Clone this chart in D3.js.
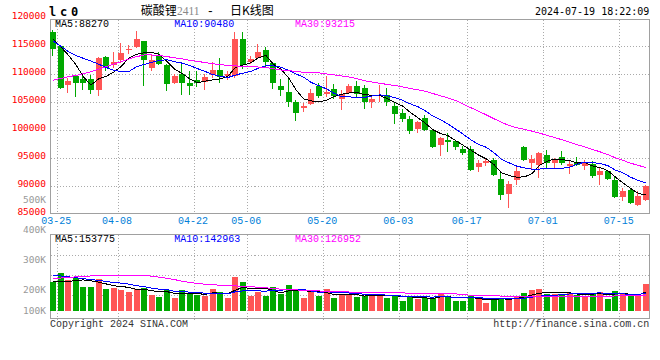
<!DOCTYPE html>
<html><head><meta charset="utf-8">
<script src="https://cdn.jsdelivr.net/npm/d3@7"></script>
<style>html,body{margin:0;padding:0;background:#fff}svg{display:block}</style>
</head><body>
<svg id="chart" width="660" height="360"></svg>
<script>
// ---------------- data ----------------
const dates=["03-25","03-26","03-27","03-28","03-29","04-01","04-02","04-03","04-08","04-09","04-10","04-11","04-12","04-15","04-16","04-17","04-18","04-19","04-22","04-23","04-24","04-25","04-26","04-29","04-30","05-06","05-07","05-08","05-09","05-10","05-13","05-14","05-15","05-16","05-17","05-20","05-21","05-22","05-23","05-24","05-27","05-28","05-29","05-30","05-31","06-03","06-04","06-05","06-06","06-07","06-11","06-12","06-13","06-14","06-17","06-18","06-19","06-20","06-21","06-24","06-25","06-26","06-27","06-28","07-01","07-02","07-03","07-04","07-05","07-08","07-09","07-10","07-11","07-12","07-15","07-16","07-17","07-18","07-19"];
const opens=[117566,115000,108019,109630,109033,109033,107064,113030,111600,112494,114224,114881,115895,111002,113210,111599,108436,110047,108376,108853,108616,109809,110644,109690,109630,116193,112136,112912,114224,112017,107840,106826,105036,103962,104558,107840,106348,107243,105453,106527,107840,107422,105036,105990,106229,104260,102947,102052,100262,102172,100083,97398,98294,97995,96683,96683,93341,94057,94713,91312,88627,91014,96921,94057,93818,95609,94117,95250,93520,94355,93520,93997,92028,92625,91014,87971,89224,86538,87433];
const highs=[117800,115100,109331,109750,109810,109900,113090,113210,113985,115597,115180,117685,115895,113628,113985,111718,109930,112017,110525,110525,110048,112196,112912,110525,117566,117566,113210,115418,114821,112136,109033,109033,105274,104857,107243,108436,109630,108138,107064,108138,108735,108019,106050,107959,107422,104857,103663,102470,101575,102649,100262,98711,99487,98294,97100,97100,94713,94892,95012,92744,90834,93520,97100,95609,96086,96504,95012,96325,94415,95131,94713,94415,93222,92923,91730,89641,89641,89045,90237];
const lows=[113300,107250,106527,105870,107064,106348,106050,110525,111121,112016,113508,114702,107840,110525,111599,106945,108257,106229,106229,107661,107064,109331,108437,108854,109331,110823,111718,112613,111241,107243,106050,104081,101694,103245,104439,105751,105870,105453,103484,106348,105632,103678,103962,105036,104260,101098,101456,99308,99427,99904,96802,95310,96086,96504,95609,92625,92505,93520,91730,87553,86061,90118,94415,92983,91431,93102,93102,93699,92207,93520,92804,91431,90237,91014,87851,87255,86777,86479,87255];
const closes=[114403,107422,108735,108436,108436,107064,112911,111121,112136,113687,114523,116193,112494,112494,111718,108138,109570,108436,107840,108317,109451,110644,109451,110048,116193,111599,112613,113986,112196,108317,107064,105036,102947,104260,106647,106050,106826,106050,106348,107840,106348,104976,105453,106169,105036,102768,101992,99785,101396,100083,96981,98593,97816,96921,95907,92804,94117,94534,91909,88448,90357,92744,94594,94773,95907,94057,94713,94057,93997,93699,94355,91730,92625,91312,87971,89046,86956,88150,89940];
const volumes=[238304,311420,251844,265384,197684,197684,259968,178728,189560,170604,157064,178728,189560,129984,116444,170604,108320,170604,135400,129984,124568,178728,157064,108320,278924,238304,124568,151648,124568,197684,135400,211224,178728,108320,151648,124568,178728,102904,129984,135400,116444,121860,129984,135400,108320,129984,81240,121860,97488,102904,102904,148940,121860,81240,81240,121860,102904,67700,97488,102904,108320,121860,143524,170604,178728,135400,140816,135400,146232,129984,124568,148940,157064,100196,162480,138108,124568,124568,219348];
// moving-average values before a full window exists
const ma5Lead=[116200,114900,113400,111700];
const ma10Lead=[115900,115000,114000,113300,112800,112300,111750,111150,110650];
const ma30Lead=[108900,109200,109500,109750,110050,110400,110850,111300,111750,112200,112700,113100,113400,113400,113300,113100,112900,112700,112450,112250,112050,111850,111650,111550,111450,111350,111300,111250,111150];
const volMa5Lead=[238000,240000,242000,245000];
const volMa10Lead=[292000,285000,278000,270000,262000,255000,248000,240000,232000];
const volMa30Lead=[262000,268000,273000,277000,281000,285000,288000,291000,292000,292000,292000,292000,290000,283000,275000,266000,255000,242000,231000,224000,218000,213000,210000,207000,204000,200000,197000,193000,189000];
const priceTicks=[120000,115000,110000,105000,100000,95000,90000,85000];
const volTicks=[500000,400000,300000,200000,100000];
const volTickLabels=["500K","400K","300K","200K","100K"];
const xLabelDates=["03-25","04-08","04-22","05-06","05-20","06-03","06-17","07-01","07-15"];
const maNames=["MA5","MA10","MA30"];
const maPeriods=[5,10,30];
const priceMaValues=[88270,90480,93215];
const volMaValues=[153775,142963,126952];
const symbol="lc0", titleName="碳酸锂", titleCode="2411", titleKind="日K线图";
const stamp="2024-07-19 18:22:09";
const copyright="Copyright 2024 SINA.COM", site="http://finance.sina.com.cn";

// ---------------- drawing ----------------
const svg=d3.select("#chart");
const MONO="'Liberation Mono','DejaVu Sans Mono',monospace";
const DJ="'DejaVu Sans Mono','Liberation Mono',monospace";
const CJK="'Noto Sans CJK SC','Noto Sans CJK JP',sans-serif";
const RED="#ff5555", GREEN="#00a800", GRID="#aaaaaa", BORDER="#a0a0a0";
const maColors=["#000000","#0000ff","#ff00ff"];

svg.append("rect").attr("width",660).attr("height",360).attr("fill","#fff");

const L=50.5, R=649.5;
const x=d3.scaleBand().domain(dates).range([49.2,649.6]).paddingInner(0).paddingOuter(0);
const step=x.step();
const cx=d=>x(d)+step/2;
const y=d3.scaleLinear().domain([85000,120000]).range([214,18]);
const yv=d3.scaleLinear().domain([0,625000]).range([311,234.06]);
const yvLabel=d3.scaleLinear().domain([200000,500000]).range([290,200]);

function rolling(vals,n,lead){return vals.map((v,i)=>i>=n-1?d3.mean(vals.slice(i-n+1,i+1)):lead[i]);}
const priceMA=[rolling(closes,5,ma5Lead),rolling(closes,10,ma10Lead),rolling(closes,30,ma30Lead)];
const volMA=[rolling(volumes,5,volMa5Lead),rolling(volumes,10,volMa10Lead),rolling(volumes,30,volMa30Lead)];

const grid=svg.append("g").attr("shape-rendering","crispEdges").attr("stroke",GRID).attr("stroke-dasharray","1,2");
// price horizontal grid
grid.selectAll(".hp").data(priceTicks.slice(1,-1)).join("line")
  .attr("x1",L).attr("x2",R).attr("y1",d=>Math.round(y(d))+0.5).attr("y2",d=>Math.round(y(d))+0.5);
// volume horizontal grid
const volGridY=[255.5,275.5,295.5];
grid.selectAll(".hv").data(volGridY).join("line")
  .attr("x1",L).attr("x2",R).attr("y1",d=>d).attr("y2",d=>d);
// vertical grid
const gx=d=>Math.round(x(d)+step)+0.5;
grid.selectAll(".vp").data(xLabelDates).join("line")
  .attr("x1",gx).attr("x2",gx).attr("y1",19.5).attr("y2",213.5);
grid.selectAll(".vv").data(xLabelDates).join("line")
  .attr("x1",gx).attr("x2",gx).attr("y1",234.5).attr("y2",320);

// panel boxes
const box=svg.append("g").attr("shape-rendering","crispEdges").attr("fill","none").attr("stroke",BORDER);
box.append("rect").attr("x",L).attr("y",19.5).attr("width",R-L).attr("height",194);
box.append("rect").attr("x",L).attr("y",234.5).attr("width",R-L).attr("height",84);

// candles
const cg=svg.append("g").attr("shape-rendering","crispEdges");
const idx=d3.range(dates.length);
const col=i=>closes[i]>=opens[i]?RED:GREEN;
const x0=i=>Math.round(cx(dates[i])-3);
cg.selectAll(".wick").data(idx).join("line")
  .attr("x1",i=>x0(i)+2.5).attr("x2",i=>x0(i)+2.5)
  .attr("y1",i=>y(highs[i])).attr("y2",i=>y(lows[i])).attr("stroke",col);
cg.selectAll(".body").data(idx).join("rect")
  .attr("x",x0).attr("width",6)
  .attr("y",i=>y(Math.max(opens[i],closes[i])))
  .attr("height",i=>Math.max(1,Math.abs(y(opens[i])-y(closes[i]))))
  .attr("fill",col);
// volume bars
cg.selectAll(".vol").data(idx).join("rect")
  .attr("x",x0).attr("width",6)
  .attr("y",i=>yv(volumes[i])).attr("height",i=>yv(0)-yv(volumes[i]))
  .attr("fill",col);

// MA lines
const mg=svg.append("g").attr("fill","none").attr("stroke-width",1).attr("shape-rendering","crispEdges");
priceMA.forEach((s,k)=>{
  mg.append("path").attr("stroke",maColors[k])
    .attr("d",d3.line().x((v,i)=>cx(dates[i])).y(v=>y(v))(s));
});
volMA.forEach((s,k)=>{
  mg.append("path").attr("stroke",maColors[k])
    .attr("d",d3.line().x((v,i)=>cx(dates[i])).y(v=>yv(v))(s));
});

// texts
const t=svg.append("g");
// price y labels
t.selectAll(".pl").data(priceTicks).join("text")
  .attr("x",46).attr("y",d=>y(d)+1.3).attr("text-anchor","end")
  .attr("font-family",DJ).attr("font-size",9.5).attr("fill","#ff0000").text(d=>d);
// volume labels
t.selectAll(".vl").data(volTicks).join("text")
  .attr("x",46).attr("y",d=>Math.min(yvLabel(d),311)+3.3).attr("text-anchor","end")
  .attr("font-family",DJ).attr("font-size",9.5).attr("fill","#999").text((d,i)=>volTickLabels[i]);
// x labels
t.selectAll(".xl").data(xLabelDates).join("text")
  .attr("x",d=>x(d)+step-0.5).attr("y",224.3).attr("text-anchor","middle")
  .attr("font-family",MONO).attr("font-size",10).attr("fill","#0080d8").text(d=>d);
// MA legends
const maX=[55,174.3,295];
maNames.forEach((n,k)=>{
  t.append("text").attr("x",maX[k]).attr("y",26.7).attr("font-family",MONO).attr("font-size",10)
    .attr("fill",maColors[k]).text(n+":"+priceMaValues[k]);
  t.append("text").attr("x",maX[k]).attr("y",241.8).attr("font-family",MONO).attr("font-size",10)
    .attr("fill",maColors[k]).text(n+":"+volMaValues[k]);
});
// title
t.append("text").attr("x",49).attr("y",16).attr("font-family",DJ).attr("font-weight","bold")
  .attr("font-size",12).attr("letter-spacing",3.8).attr("fill","#000").text(symbol);
t.append("text").attr("x",140.7).attr("y",15).attr("font-family",CJK).attr("font-size",12).attr("fill","#000").text(titleName);
t.append("text").attr("x",177).attr("y",15).attr("font-family","'Liberation Serif',serif").attr("font-size",11.5).attr("fill","#888").text(titleCode);
t.append("text").attr("x",210.3).attr("y",15).attr("text-anchor","middle").attr("font-family",MONO).attr("font-size",12).attr("fill","#000").text("-");
t.append("text").attr("x",230).attr("y",15).attr("font-family",CJK).attr("font-size",12).attr("fill","#000").text(titleKind);
t.append("text").attr("x",649.3).attr("y",15).attr("text-anchor","end").attr("font-family",DJ).attr("font-size",10).attr("fill","#000").text(stamp);
// footer
t.append("text").attr("x",50).attr("y",326.7).attr("font-family",MONO).attr("font-size",10).attr("fill","#333").text(copyright);
t.append("text").attr("x",649.3).attr("y",326.7).attr("text-anchor","end").attr("font-family",MONO).attr("font-size",10).attr("fill","#333").text(site);
</script>
</body></html>
